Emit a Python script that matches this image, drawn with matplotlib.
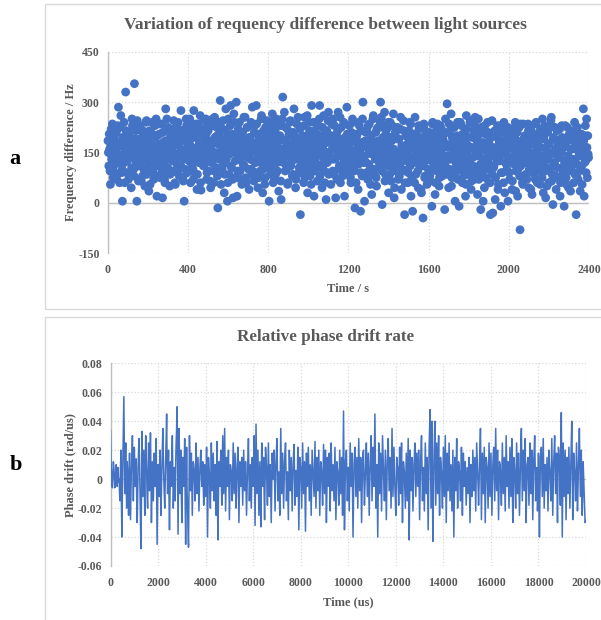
import numpy as np
import matplotlib
matplotlib.use('Agg')
import matplotlib.pyplot as plt
from matplotlib.patches import Rectangle

plt.rcParams['font.family'] = ['Liberation Serif', 'DejaVu Serif']
plt.rcParams['font.weight'] = 'bold'
plt.rcParams['axes.unicode_minus'] = False

# --- panel a: frequency difference (Hz) ---
# samples at t = 0, 4, 8, ... s
freq_hz_even = [
    185, 110, 160, 55, 220, 140, 175, 95, 200, 130, 165, 70, 230, 285, 120, 180, 260, 90, 5, 145,
    240, 60, 330, 175, 125, 210, 85, 155, 195, 45, 250, 135, 100, 355, 170, 215, 5, 150, 65, 190,
    230, 120, 160, 80, 205, 140, 50, 185, 245, 105, 170, 35, 215, 130, 95, 240, 155, 70, 195, 125,
    250, 20, 165, 110, 205, 75, 140, 235, 15, 180, 120, 60, 280, 145, 90, 225, 170, 50, 200, 135,
    160, 95, 245, 130, 55, 190, 115, 175, 220, 80, 150, 275, 105, 200, 65, 5, 185, 140, 230, 90,
    170, 125, 250, 60, 195, 145, 100, 275, 215, 85, 160, 40, 235, 120, 180, 260, 38, 155, 205, 110,
    185, 135, 250, 70, 165, 215, 95, 145, 45, 230, 120, 180, 60, 255, 150, 105, 200, -15, 240, 130,
    305, 55, 170, 220, 115, 30, 190, 280, 140, 5, 250, 85, 160, 290, 105, 205, 15, 265, 150, 75,
    300, 20, 185, 130, 240, 95, 165, 55, 210, 145, 110, 255, 75, 175, 225, 135, 40, 195, 150, 100,
    285, 160, 65, 230, 120, 290, 180, 45, 205, 140, 95, 250, 170, 30, 215, 130, 75, 190, 245, 110,
    155, 5, 225, 100, 175, 265, 60, 140, 205, 85, 250, 120, 165, 35, 190, 145, 10, 230, 315, 130,
    270, 95, 185, 140, 55, 215, 160, 240, 110, 175, 80, 200, 280, 130, 45, 195, 150, 255, 90, 165,
    -35, 225, 120, 185, 60, 255, 145, 100, 200, 30, 170, 240, 80, 155, 290, 115, 190, 20, 215, 135,
    175, 65, 230, 145, 290, 105, 200, 45, 160, 260, 125, 185, 10, 215, 90, 270, 150, 195, 55, 235,
    130, 250, 85, 175, 15, 205, 140, 270, 100, 185, 60, 225, 160, 115, 240, 20, 195, 145, 285, 90,
    170, 230, 110, 60, 190, 250, 140, 95, -15, 205, 125, 175, 40, 240, 155, -25, 215, 80, 300, 130,
    5, 185, 120, 215, 70, 160, 235, 100, 195, 25, 145, 260, 85, 175, 210, 50, 135, 225, 180, 115,
    300, 255, -5, 195, 140, 270, 85, 175, 220, 110, 30, 160, 240, 65, 185, 125, 265, 15, 205, 95,
    150, 225, 70, 190, 115, 255, 40, 170, 135, 215, -35, 95, 200, 155, 60, 180, 240, 110, 20, 165,
    -25, 205, 130, 255, 85, 175, 145, 45, 220, 110, 190, 30, 160, -45, 235, 75, 125, 200, 55, 180,
    140, 210, 65, 185, -10, 240, 120, 160, 25, 200, 95, 235, 150, 50, 175, 115, 220, 80, 190, 135,
    -20, 250, 105, 295, 165, 45, 210, 130, 265, 75, 185, 145, 225, 5, 170, 95, 240, 120, -10, 195,
    130, 230, 60, 175, 110, 205, 20, 260, 150, 85, 195, 120, 245, 40, 165, 135, 215, 70, 255, 100,
    185, 25, 250, 140, 100, -20, 215, 160, 5, 120, 230, 75, 175, 135, 210, 60, 190, -35, 145, 245,
    -30, 105, 200, 10, 160, 125, 230, 55, 180, 140, -10, 210, 90, 165, 240, 30, 150, 115, 195, 5,
    220, 70, 135, 175, 40, 205, 120, 155, 240, 95, 185, 20, 140, 225, -80, 110, 170, 60, 235, 130,
    200, 85, 160, 120, 235, 45, 180, 140, 215, 25, 105, 190, 150, 70, 240, 130, 175, 95, 210, 55,
    165, 125, 250, 30, 190, 140, 15, 210, 100, 175, 60, 225, 145, 255, 85, -5, 195, 120, 160, 40,
    215, 135, 75, 180, 20, 150, 230, 105, 190, -10, 125, 170, 55, 225, 140, 95, 200, 35, 160, 115,
    185, 60, 240, 130, -35, 175, 90, 205, 145, 35, 195, 110, 165, 280, 20, 200, 125, 250, 75, 145,
]
# samples at t = 2, 6, 10, ... s
freq_hz_odd = [
    150, 205, 95, 170, 130, 235, 75, 190, 115, 160, 210, 85, 145, 180, 60, 225, 135, 100, 195, 165,
    120, 185, 215, 90, 155, 70, 200, 140, 175, 105, 230, 160, 80, 190, 125, 150, 245, 110, 175, 135,
    190, 65, 150, 215, 100, 175, 130, 240, 85, 160, 195, 120, 55, 180, 145, 205, 90, 165, 230, 110,
    140, 200, 80, 175, 235, 120, 160, 95, 210, 145, 70, 185, 130, 250, 105, 165, 215, 85, 150, 190,
    125, 220, 170, 60, 145, 200, 90, 240, 135, 180, 110, 160, 215, 75, 190, 130, 100, 250, 155, 205,
    95, 180, 140, 225, 115, 165, 70, 195, 150, 235, 125, 85, 205, 170, 135, 60, 220, 140, 180, 245,
    115, 160, 205, 90, 230, 140, 185, 65, 170, 120, 250, 150, 95, 195, 135, 225, 80, 175, 150, 210,
    140, 190, 100, 245, 160, 85, 215, 130, 175, 60, 200, 145, 230, 110, 185, 70, 165, 240, 125, 195,
    160, 95, 220, 135, 180, 70, 205, 150, 115, 255, 140, 185, 60, 225, 165, 100, 195, 130, 240, 85,
    180, 125, 210, 155, 90, 235, 145, 200, 75, 170, 120, 260, 160, 100, 190, 55, 225, 140, 175, 205,
    130, 195, 85, 240, 160, 115, 185, 70, 215, 145, 175, 95, 230, 135, 200, 65, 160, 250, 120, 185,
    150, 225, 100, 175, 60, 200, 140, 245, 120, 165, 85, 210, 155, 190, 70, 235, 130, 175, 105, 220,
    165, 90, 200, 140, 230, 75, 185, 125, 260, 160, 105, 215, 145, 55, 195, 135, 240, 95, 170, 150,
    205, 115, 160, 250, 80, 190, 140, 225, 100, 175, 60, 210, 150, 120, 245, 85, 180, 135, 200, 160,
    95, 185, 230, 130, 165, 70, 215, 150, 110, 255, 140, 190, 80, 170, 125, 235, 100, 160, 205, 140,
    175, 130, 75, 210, 155, 240, 100, 185, 135, 60, 200, 165, 115, 230, 145, 90, 180, 250, 120, 170,
    140, 210, 90, 165, 230, 115, 185, 55, 200, 145, 250, 100, 170, 130, 75, 220, 155, 185, 110, 240,
    160, 95, 225, 135, 180, 65, 205, 150, 120, 240, 170, 85, 195, 140, 230, 105, 160, 45, 210, 130,
    115, 190, 150, 80, 220, 135, 170, 100, 245, 155, 60, 200, 125, 175, 90, 215, 140, 235, 70, 165,
    185, 120, 60, 205, 145, 170, 95, 230, 130, 175, 40, 195, 150, 110, 220, 80, 165, 135, 205, 100,
    155, 80, 195, 125, 235, 100, 170, 140, 60, 215, 150, 110, 185, 75, 230, 130, 160, 95, 205, 140,
    120, 175, 85, 210, 140, 235, 100, 165, 50, 195, 130, 225, 90, 160, 115, 200, 70, 180, 145, 240,
    100, 165, 205, 80, 145, 185, 55, 220, 125, 170, 95, 240, 135, 65, 195, 110, 160, 230, 85, 150,
    140, 200, 70, 165, 115, 225, 90, 180, 130, 45, 205, 155, 100, 240, 120, 175, 60, 195, 140, 85,
    165, 110, 215, 75, 150, 195, 40, 170, 125, 230, 90, 145, 185, 60, 210, 120, 160, 100, 225, 135,
    90, 175, 130, 220, 65, 160, 115, 195, 35, 145, 210, 100, 170, 80, 235, 125, 150, 55, 190, 140,
    120, 185, 70, 160, 215, 100, 145, 40, 200, 130, 175, 85, 235, 115, 155, 60, 195, 140, 105, 220,
    140, 75, 195, 120, 230, 95, 160, 50, 210, 130, 175, 105, 245, 65, 150, 190, 115, 225, 80, 160,
    105, 175, 135, 220, 60, 155, 195, 90, 165, 120, 230, 75, 185, 140, 45, 205, 115, 160, 95, 215,
    130, 190, 85, 160, 115, 225, 70, 175, 140, 100, 205, 55, 150, 185, 120, 230, 90, 165, 200, 135,
]
freq_time_even = np.arange(len(freq_hz_even)) * 4
freq_time_odd = np.arange(len(freq_hz_odd)) * 4 + 2

# --- panel b: phase drift rate, in 0.001 rad/us ---
# samples at t = 0, 40, 80, ... us
drift_main = [
    34, 5, -6, 12, 2, -3, 10, -5, 8, 0, -15, 20, -40, 15, 57, -10, 25, -20, 5, -25,
    18, -28, 10, 30, -15, 22, -5, 14, -30, 8, 28, -10, -48, 33, -12, 20, -25, 30, 5, -20,
    25, -8, 32, -30, 12, -15, 18, -5, 28, -45, 10, -12, 20, -25, 8, 35, 0, -20, 15, 45,
    -10, 20, -35, 12, -5, 30, -20, 8, -15, 25, 50, -38, 35, -10, 20, -30, 15, -5, 28, -45,
    22, -20, -47, 30, -8, 18, -25, 12, 5, -15, 25, -10, 15, -22, 8, 20, -5, 12, -18, 10,
    -12, 22, -40, 15, 3, -20, 25, -8, 18, -15, 10, -25, 26, -42, 12, -5, 20, -18, 30, -10,
    35, -22, 15, -5, 20, -28, 10, 5, -15, 25, -10, 18, -20, 8, 22, -30, 12, -5, 15, -18,
    20, -8, 12, -25, 5, 28, -15, 10, -20, 15, -5, 30, -32, 38, -10, 20, -25, 12, -33, 25,
    -5, 15, -28, 22, 8, -18, 25, -12, 10, -30, 18, 0, 20, -22, 12, 28, -15, 5, -25, 35,
    -10, 18, -20, 12, 25, -15, 5, -28, 20, -8, 15, -22, 10, 24, -18, 6, -12, 22, -35, 15,
    8, -20, 25, -10, 12, -36, 18, -5, 22, -15, 10, -25, 20, 5, -12, 26, -20, 15, -8, 20,
    -25, 12, 5, -18, 24, -10, 20, -30, 15, -5, 18, -22, 25, -8, 10, -15, 22, -28, 12, 5,
    -18, 20, -10, 15, -25, 47, -35, 12, 20, -15, 8, -22, 25, -5, 18, -40, 10, 22, -12, 15,
    -20, 28, -8, 15, -30, 12, 20, -18, 5, 25, -12, 18, -25, 10, 30, -15, 22, -5, 45, -20,
    10, -40, 25, -10, 18, -22, 30, 5, -15, 20, -28, 12, 28, -8, 15, -20, 35, -12, 22, -5,
    -25, 15, 8, -18, 22, -10, 25, -30, 12, 5, -20, 18, -15, 28, -42, 20, -8, 15, -22, 10,
    25, -12, 18, -5, 20, -28, 12, 30, -15, 8, -22, 25, -10, 15, -35, 22, 48, -20, 40, -43,
    12, 40, -18, 25, -10, 30, -25, 15, 5, -20, 22, -12, 30, -30, 18, -8, 25, -15, 10, -22,
    20, -40, 15, -8, 28, -20, 12, 5, -15, 22, -25, 18, -5, 12, -18, 8, -10, 15, -30, 10,
    -12, 20, -8, 15, -22, 25, 5, -18, 12, 35, -28, 18, -10, 22, -30, 15, 8, -20, 25, -12,
    18, -25, 10, 22, -15, 35, -8, 20, -28, 12, 5, -18, 25, -10, 15, -22, 30, -5, 12, -20,
    22, -12, 28, -30, 15, 5, -20, 25, -10, 18, -25, 12, 35, -15, 20, -8, 28, -30, 10, 15,
    -18, 25, -10, 20, -28, 12, 30, -15, 8, -22, 18, -40, 15, 22, -12, 28, -20, 10, -8, 15,
    -22, 20, 5, -15, 28, -25, 12, 30, -10, 18, -30, 22, 15, -18, 46, -40, 25, -12, 20, -28,
    15, -10, 22, -20, 12, 40, -28, 18, 5, -15, 25, -22, 10, 35, -12, 20, -25, 12, -8, -30,
    -28,
]
# samples at t = 20, 60, 100, ... us
drift_mid = [
    12, -4, 3, 8, -6, 4, 1, 6, -2, -10, 8, -18, -8, 35, 20, 10, -5, 12, -10, 6,
    -5, -8, 18, 10, 5, 10, 6, -12, -15, 20, 12, -30, -15, 10, 5, -5, 8, 18, -12, 4,
    10, 15, 5, -10, -2, 3, 8, 12, -10, -20, -3, 5, 2, -8, 20, 15, -10, -2, 28, 10,
    5, -12, -10, 0, 15, 5, -8, -5, 10, 35, 10, -5, 15, 8, -10, -8, 5, 12, -15, -10,
    -8, -35, -10, 12, 5, -5, -8, 10, -5, 8, 5, 2, -5, -8, 15, 5, 4, -5, -3, -2,
    5, -12, -15, 8, -10, 2, 5, 6, 2, -5, -10, 5, -20, -10, 2, 8, -3, 8, 12, 15,
    5, -5, 5, 8, -5, -8, 8, -5, 5, 8, 3, 0, -8, 15, -5, -10, 3, 5, -3, 2,
    5, 2, -8, -10, 15, 8, -2, -5, -2, 5, 12, -5, 5, 12, 6, -5, -5, -10, -8, 10,
    5, -10, -5, 15, -5, 5, 5, -2, -12, -5, 8, 10, -2, -5, 20, 5, -5, -10, 5, 12,
    5, -3, -5, 18, 5, -5, -12, -5, 6, 5, -5, -5, 18, 3, -6, -3, 5, -8, -10, 12,
    -6, 5, 8, 2, -12, -10, 5, 8, 3, -2, -8, -3, 12, -5, 8, 2, -3, 5, 6, -2,
    -8, 10, -6, 5, 8, 5, -5, -10, 5, 8, -2, 5, 8, 2, -3, 5, -5, -10, 8, -6,
    2, 5, 3, -5, 15, 10, -15, 16, 3, -5, -8, 2, 10, 8, -10, -15, 16, 5, 2, -3,
    5, 10, 3, -8, -10, 18, -2, -5, 15, 5, 3, -5, -8, 20, 8, 3, 10, 18, 15, -8,
    -15, -10, 8, 5, -3, 5, 18, -5, 2, -5, -8, 20, 10, 5, -2, 10, 12, 5, 8, -15,
    -5, 10, -5, 5, 6, 8, -8, -10, 8, -8, -2, 2, 8, -10, -15, 5, 2, -5, -5, 15,
    8, 3, 5, 8, -5, -10, 20, 5, -3, -8, 2, 8, 2, -10, -5, 35, 15, 10, -10, -15,
    25, 10, 5, 8, 10, -5, -5, 10, -8, 0, 5, 10, 0, -5, 5, 8, 5, -2, -8, 0,
    -10, -15, 5, 10, -2, -5, 8, -5, 3, -5, -3, 8, 5, -3, -5, -2, 2, -8, -10, -5,
    5, 5, 3, -5, 2, 15, -5, -5, 25, 5, -5, 3, 8, -5, -8, 12, -5, 2, 5, 3,
    -5, -8, 18, 5, 10, 15, 5, -5, -8, 10, -8, 5, 8, 3, -5, 5, 12, 5, -5, 2,
    5, 8, -5, -10, 12, -8, 5, 8, 2, -5, -8, 25, 10, 3, 5, 10, -5, -12, 12, 0,
    5, 5, 8, -5, -10, 20, 10, -5, -8, -5, -15, -12, 18, 5, 8, 5, -5, -2, 5, -5,
    -2, 10, -5, 8, 2, -5, 20, 10, 5, -8, 2, 18, -5, 20, 5, -10, 8, 5, -5, -8,
    5, 8, 2, -5, 25, 10, -5, 10, -5, 5, 2, -8, 20, 10, 5, -5, -10, 2, -20, -29,
]
t_main = np.arange(len(drift_main)) * 40
t_mid = np.arange(len(drift_mid)) * 40 + 20
drift_time_us = np.concatenate([t_main, t_mid])
drift_vals = np.concatenate([drift_main, drift_mid]) / 1000.0
order = np.argsort(drift_time_us)
drift_time_us = drift_time_us[order]
drift_vals = drift_vals[order]

freq_ticks_x = [0, 400, 800, 1200, 1600, 2000, 2400]
freq_ticks_y = [-150, 0, 150, 300, 450]
drift_ticks_x = list(range(0, 20001, 2000))
drift_ticks_y = [-0.06, -0.04, -0.02, 0, 0.02, 0.04, 0.06, 0.08]
drift_ticklabels = ['-0.06', '-0.04', '-0.02', '0', '0.02', '0.04', '0.06', '0.08']

BLUE = '#4472C4'
GRID = '#d9d9d9'
TXT = '#595959'

fig = plt.figure(figsize=(6.01, 6.2), dpi=100)

# chart area frames (Excel style)
fig.patches.append(Rectangle((0.0749, 0.5016), 1.0, 0.4919, transform=fig.transFigure,
                             fill=False, edgecolor=GRID, linewidth=1.0))
fig.patches.append(Rectangle((0.0749, -0.1), 1.0, 0.5887, transform=fig.transFigure,
                             fill=False, edgecolor=GRID, linewidth=1.0))


def style_axes(ax):
    for s in ['top', 'right', 'bottom']:
        ax.spines[s].set_visible(False)
    ax.spines['left'].set_color('#bfbfbf')
    ax.spines['left'].set_linewidth(1.0)
    ax.grid(True, color=GRID, linestyle=':', linewidth=0.9)
    ax.set_axisbelow(True)
    ax.tick_params(length=0, labelsize=8.5, labelcolor=TXT)
    for lab in ax.get_xticklabels() + ax.get_yticklabels():
        lab.set_fontweight('bold')
    ax.axhline(0, color='#bfbfbf', linewidth=1.0, zorder=1)


# panel a
ax1 = fig.add_axes([0.1797, 0.5915, 0.8003, 0.325])
ax1.scatter(freq_time_even, freq_hz_even, s=40, color=BLUE, edgecolors='none', zorder=3, clip_on=False)
ax1.scatter(freq_time_odd, freq_hz_odd, s=40, color=BLUE, edgecolors='none', zorder=3, clip_on=False)
ax1.set_xlim(0, 2400)
ax1.set_ylim(-150, 450)
ax1.set_xticks(freq_ticks_x)
ax1.set_yticks(freq_ticks_y)
style_axes(ax1)
ax1.tick_params(axis='x', pad=8)
ax1.tick_params(axis='y', pad=6)
ax1.set_xlabel('Time / s', fontsize=9, color=TXT, fontweight='bold', labelpad=5)
ax1.set_ylabel('Frequency difference / Hz', fontsize=9, color=TXT, fontweight='bold', labelpad=1)
fig.text(0.541, 0.96, 'Variation of requency difference between light sources',
         ha='center', va='center', fontsize=12.5, color=TXT, fontweight='bold')

# panel b
ax2 = fig.add_axes([0.1839, 0.0871, 0.7912, 0.3269])
ax2.plot(drift_time_us, drift_vals, color=BLUE, linewidth=1.1, zorder=3)
ax2.set_xlim(0, 20000)
ax2.set_ylim(-0.06, 0.08)
ax2.set_xticks(drift_ticks_x)
ax2.set_yticks(drift_ticks_y)
ax2.set_yticklabels(drift_ticklabels)
style_axes(ax2)
ax2.tick_params(axis='x', pad=8)
ax2.tick_params(axis='y', pad=6)
ax2.set_xlabel('Time (us)', fontsize=9, color=TXT, fontweight='bold', labelpad=5)
ax2.set_ylabel('Phase drift (rad/us)', fontsize=9, color=TXT, fontweight='bold', labelpad=1)
fig.text(0.541, 0.456, 'Relative phase drift rate',
         ha='center', va='center', fontsize=12.3, color=TXT, fontweight='bold')

# panel letters
fig.text(0.025, 0.744, 'a', ha='center', va='center', fontsize=16, fontweight='bold', color='black')
fig.text(0.027, 0.25, 'b', ha='center', va='center', fontsize=16, fontweight='bold', color='black')

fig.savefig('out.png', dpi=100)
